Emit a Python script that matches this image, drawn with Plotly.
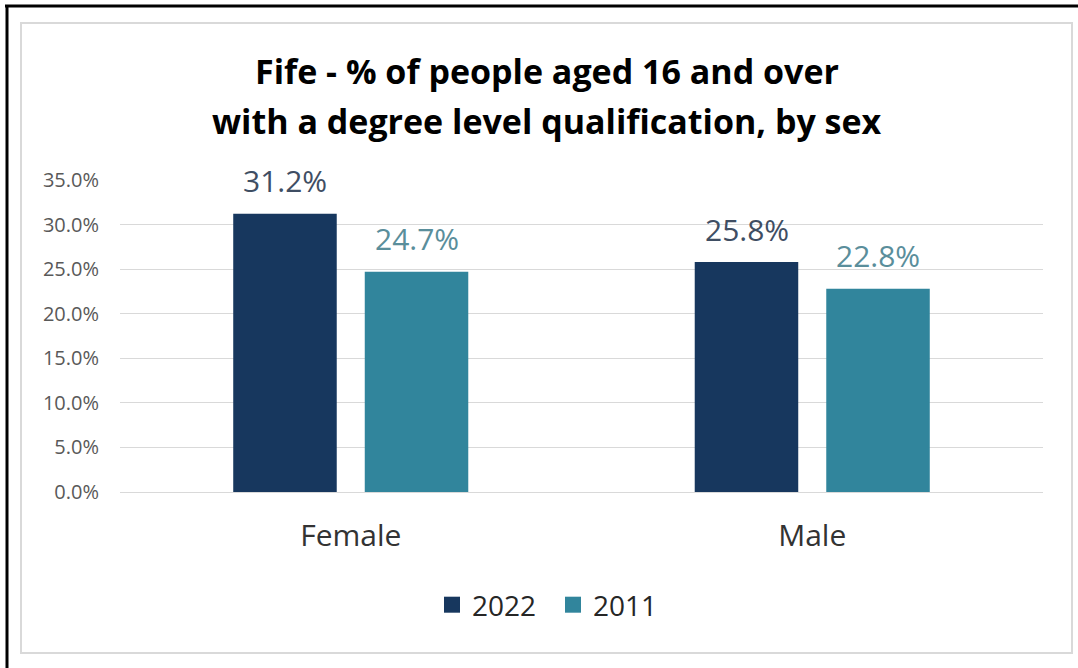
import plotly.graph_objects as go

categories = ["Female", "Male"]
series_names = ["2022", "2011"]
values_2022 = [31.2, 25.8]
values_2011 = [24.7, 22.8]
y_ticks = [0, 5, 10, 15, 20, 25, 30, 35]
y_tick_labels = ["0.0%", "5.0%", "10.0%", "15.0%", "20.0%", "25.0%", "30.0%", "35.0%"]
title_lines = ["Fife - % of people aged 16 and over",
               "with a degree level qualification, by sex"]

colors = ["#17375E", "#31859C"]
label_colors = ["#3F4E63", "#5A8E9B"]
FONT = "Open Sans, sans-serif"

W, H = 1078, 668
L, R, T, B = 120, 1043, 180, 492  # plot area in page pixels

def px(x):
    return (x - L) / (R - L)

def py(y):
    return (B - y) / (B - T)

fig = go.Figure()
for name, vals, c in zip(series_names, [values_2022, values_2011], colors):
    fig.add_trace(go.Bar(x=categories, y=vals, name=name, marker_color=c,
                         marker_line_width=0, hoverinfo="skip", showlegend=False))
for name, c in zip(series_names, colors):
    fig.add_trace(go.Scatter(x=[None], y=[None], mode="markers", name=name,
                             marker=dict(symbol="square", size=20, color=c), showlegend=True))

bar_slot = 131.5
annotations = []
for i, (vals, lc) in enumerate(zip([values_2022, values_2011], label_colors)):
    shift = (-0.5 if i == 0 else 0.5) * bar_slot
    for cat, v in zip(categories, vals):
        annotations.append(dict(x=cat, y=v, xref="x", yref="y", text=f"{v:.1f}%",
                                showarrow=False, xshift=shift, yshift=33,
                                yanchor="middle", xanchor="center",
                                font=dict(family=FONT, size=30, color=lc)))

for line, yc in zip(title_lines, [71, 121]):
    annotations.append(dict(x=px(547), y=py(yc), xref="paper", yref="paper",
                            text=f"<b>{line}</b>",
                            showarrow=False, xanchor="center", yanchor="middle", align="center",
                            font=dict(family=FONT, size=34, color="#000000")))

shapes = [
    dict(type="rect", xref="paper", yref="paper", x0=px(21), x1=px(1072), y0=py(23), y1=py(653),
         line=dict(color="#D9D9D9", width=2), fillcolor="rgba(0,0,0,0)", layer="below"),
    dict(type="line", xref="paper", yref="paper", x0=px(5), x1=px(1090), y0=py(6), y1=py(6),
         line=dict(color="#000000", width=3)),
    dict(type="line", xref="paper", yref="paper", x0=px(7), x1=px(7), y0=py(5), y1=py(680),
         line=dict(color="#000000", width=3)),
]

fig.update_layout(
    width=W, height=H,
    margin=dict(l=L, r=W - R, t=T, b=H - B, autoexpand=False),
    paper_bgcolor="white", plot_bgcolor="white",
    barmode="group", bargap=0.43, bargroupgap=0.213,
    showlegend=True,
    legend=dict(orientation="h", x=px(432), y=py(605), xanchor="left", yanchor="middle",
                font=dict(family=FONT, size=28, color="#262626"),
                itemwidth=30, entrywidth=76, traceorder="normal"),
    annotations=annotations,
    shapes=shapes,
    xaxis=dict(showgrid=False, showline=True, linecolor="#D9D9D9", linewidth=1,
               ticks="", ticklabelstandoff=17,
               tickfont=dict(family=FONT, size=30, color="#333333")),
    yaxis=dict(range=[0, 35], tickvals=y_ticks, ticktext=y_tick_labels,
               showgrid=True, gridcolor="#D9D9D9", gridwidth=1, zeroline=False,
               showline=False, ticks="", ticklabelstandoff=20,
               tickfont=dict(family=FONT, size=20, color="#595959")),
)

fig.write_html("out.html", config={"displayModeBar": False},
               post_script="document.body.style.margin='0';document.body.style.overflow='hidden';")
